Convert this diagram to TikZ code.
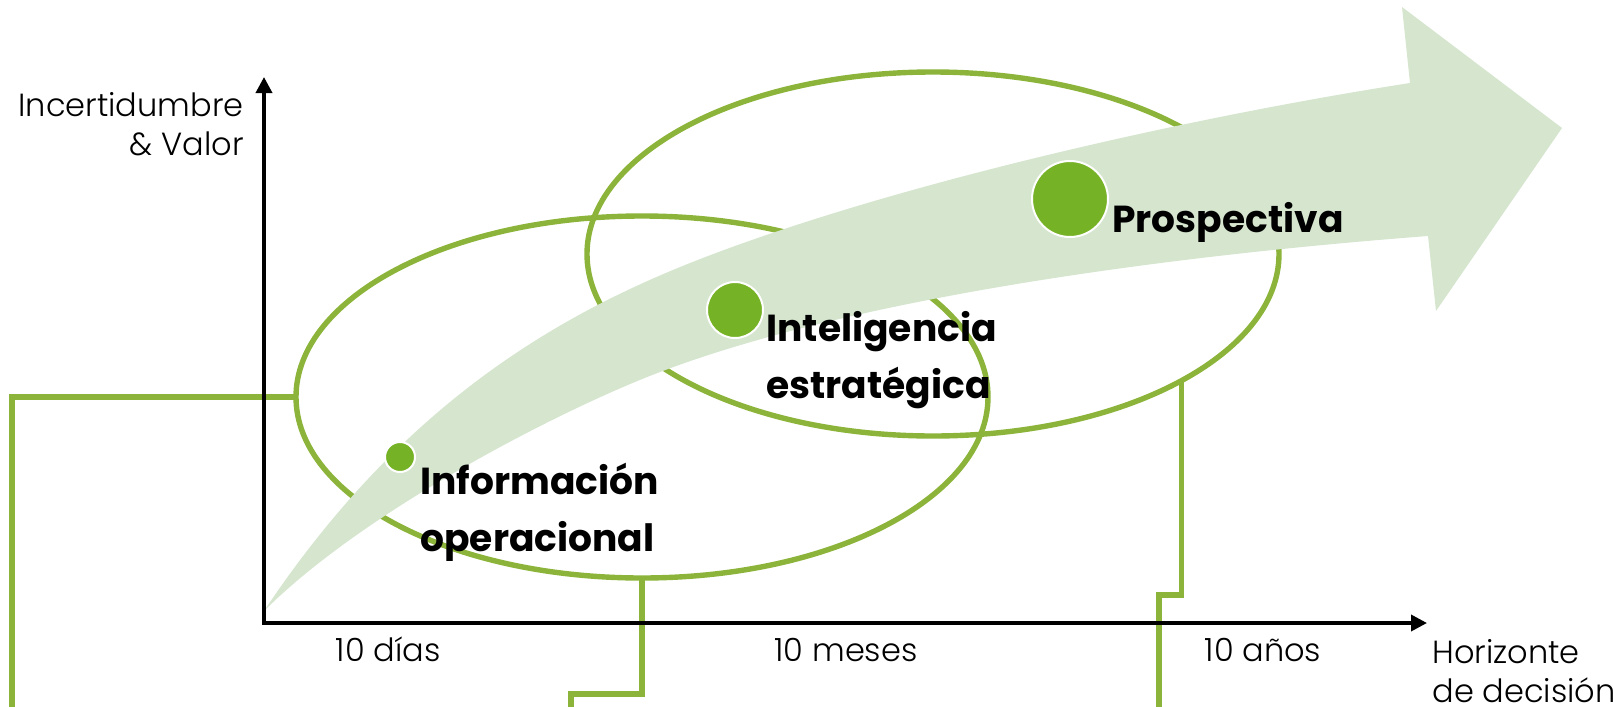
\documentclass[tikz,border=0pt]{standalone}
\usepackage{fontspec}
\setmainfont{Poppins}
\newfontfamily\axisfont{Poppins Light}
\usetikzlibrary{arrows.meta,shapes.geometric}
\definecolor{linegreen}{RGB}{140,180,58}
\definecolor{dotgreen}{RGB}{118,178,38}
\definecolor{bandgreen}{RGB}{213,229,206}

\begin{document}
\begin{tikzpicture}[x=0.5pt, y=-0.5pt,
    every node/.style={inner sep=0pt},
    zone/.style={ellipse, draw=linegreen, line width=2.7pt, outer sep=0pt,
      minimum width=346pt, minimum height=181pt},
    link/.style={draw=linegreen, line width=2.7pt},
    axis/.style={line width=1.8pt, {Triangle[width=8pt,length=8pt]}-{Triangle[width=8pt,length=8pt]}},
    dot/.style={circle, fill=dotgreen, draw=white, line width=1pt},
    stage/.style={font=\fontsize{18.8}{28.5}\selectfont\bfseries, align=left},
    axislabel/.style={font=\axisfont\fontsize{16}{19.5}\selectfont}]
	% Fix the page size
	\useasboundingbox (0,0) rectangle (1613,707);
	
	% Draw the two zones
	\node[zone] (opera) at (642,397) {};
	\node[zone, minimum height=182pt] (estra) at (933,254) {};
	
	% Lines leaving the zones
	\coordinate (e1) at (12,712);
	\coordinate (s2) at (571,694);
	\coordinate (e2) at (571,712);
	\coordinate (s3) at (1159,595);
	\coordinate (e3) at (1159,712);
	\draw[link] (opera.west) -| (e1);
	\draw[link] (opera.south) |- (s2) -- (e2);
	\draw[link] (estra.-27.7) |- (s3) -- (e3);
	
	% Growth arrow
	\fill[bandgreen] (264,611) .. controls (414,386) and (585,300) .. (735,246)
	.. controls (935,174) and (1210,114) .. (1410,83)
	-- (1402,7) -- (1562,128) -- (1436,311) -- (1428,236)
	.. controls (1178,255) and (860,296) .. (660,372)
	.. controls (560,410) and (364,511) .. (264,611) -- cycle;
	
	% Draw axes
	\coordinate (ytip) at (264,77);
	\coordinate (origin) at (264,623);
	\coordinate (xtip) at (1427,623);
	\draw[axis] (ytip) -- (origin) -- (xtip);
	
	% Stage dots
	\node[dot, minimum size=15pt] (d1) at (400,457) {};
	\node[dot, minimum size=28pt] (d2) at (735,310) {};
	\node[dot, minimum size=38pt] (d3) at (1070,199) {};
	
	% Stage labels
	\node[stage, anchor=west] (l1) at (420,512) {Información\\operacional};
	\node[stage, anchor=west] (l2) at (766,360) {Inteligencia\\estratégica};
	\node[stage, anchor=base west] (l3) at (1112,232) {Prospectiva};
	
	% Axis labels
	\node[axislabel, align=right, anchor=east] (ylab) at (244,124) {Incertidumbre\\\& Valor};
	\node[axislabel, align=left, anchor=west] (xlab) at (1432,671) {Horizonte\\de decisión};
	\node[axislabel, anchor=base] (t1) at (388,661) {10 días};
	\node[axislabel, anchor=base] (t2) at (846,661) {10 meses};
	\node[axislabel, anchor=base] (t3) at (1263,661) {10 años};
	
\end{tikzpicture}
\end{document}
